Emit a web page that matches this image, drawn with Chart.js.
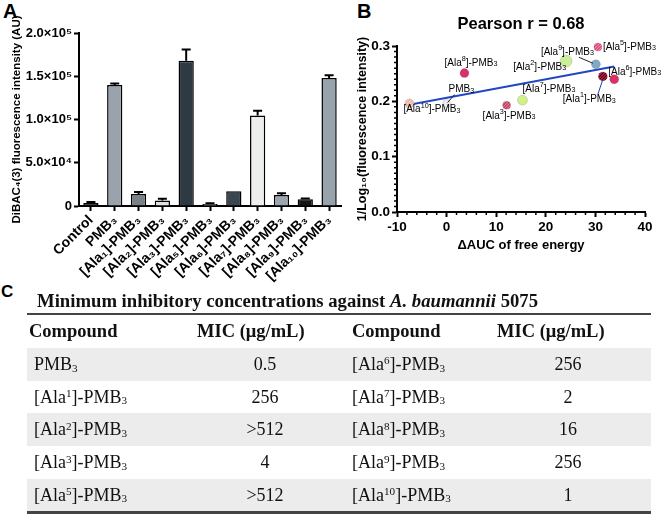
<!DOCTYPE html>
<html>
<head>
<meta charset="utf-8">
<script src="https://cdn.jsdelivr.net/npm/chart.js@4.4.1/dist/chart.umd.min.js"></script>
<style>
	html, body { margin: 0; padding: 0; background: #fff; }
	#page { position: relative; width: 661px; height: 514px; overflow: hidden; font-family: "Liberation Sans", Arial, sans-serif; }
	.letter { position: absolute; font-weight: bold; color: #000; line-height: 1; }
	#boxA { position: absolute; left: 0; top: 0; width: 345px; height: 292px; }
	#boxB { position: absolute; left: 330px; top: 0; width: 331px; height: 265px; }
	#table { position: absolute; left: 0; top: 0; width: 661px; height: 514px; font-family: "Liberation Serif", "Times New Roman", serif; color: #111; }
	#table div { position: absolute; white-space: nowrap; }
	.rule { background: #444; }
	.row { background: #ececec; }
	.cell { font-size: 18px; }
	.head { font-size: 18.5px; font-weight: bold; }
	sup, sub { font-size: 62%; line-height: 0; position: relative; vertical-align: baseline; }
	sup { top: -0.5em; }
	sub { top: 0.15em; }
</style>
</head>
<body>
<div id="page">
	<div class="letter" style="left:3px;top:1px;font-size:20px;">A</div>
	<div class="letter" style="left:357px;top:1px;font-size:20px;">B</div>
	<div class="letter" style="left:1px;top:283px;font-size:17px;">C</div>
	<div id="boxA"><canvas id="chartA" width="345" height="292"></canvas></div>
	<div id="boxB"><canvas id="chartB" width="331" height="265"></canvas></div>
	<div id="table"></div>
</div>
<script>
// --- panel A: membrane depolarisation (DiBAC4(3))
const barLabels = ['Control', 'PMB₃', '[Ala₁]-PMB₃', '[Ala₂]-PMB₃', '[Ala₃]-PMB₃', '[Ala₅]-PMB₃',
	'[Ala₆]-PMB₃', '[Ala₇]-PMB₃', '[Ala₈]-PMB₃', '[Ala₉]-PMB₃', '[Ala₁₀]-PMB₃'];
const barValues = [3500, 140000, 13800, 6500, 168000, 2300, 17000, 104500, 12800, 7800, 148000];
const barErrors = [1000, 1500, 2300, 2000, 13000, 1000, 0, 5500, 2000, 1000, 3200];
const barColors = ['#1c1c1c', '#9aa3ab', '#7a8187', '#dde1e1', '#2d3a43', '#b1b7bb',
	'#3a4750', '#eceeee', '#9ca6ae', '#141414', '#98a2aa'];
const yTicksA = [0, 50000, 100000, 150000, 200000];

// --- panel B: correlation
const pointNames = ['[Ala^10]-PMB_3', 'PMB_3', '[Ala^8]-PMB_3', '[Ala^3]-PMB_3', '[Ala^7]-PMB_3',
	'[Ala^2]-PMB_3', '[Ala^9]-PMB_3', '[Ala^5]-PMB_3', '[Ala^1]-PMB_3', '[Ala^6]-PMB_3'];
const freeEnergy = [-7.5, 0, 3.6, 12.1, 15.3, 24.1, 30.1, 30.5, 31.5, 33.8];
const invLogFluor = [0.196, 0.196, 0.251, 0.193, 0.202, 0.273, 0.267, 0.298, 0.245, 0.240];
const fitX = [-7.5, 33.8];
const fitY = [0.194, 0.263];
const pearsonR = '0.68';

// --- panel C: MIC table
const micCompoundsLeft = ['PMB_3', '[Ala^1]-PMB_3', '[Ala^2]-PMB_3', '[Ala^3]-PMB_3', '[Ala^5]-PMB_3'];
const micValuesLeft = ['0.5', '256', '>512', '4', '>512'];
const micCompoundsRight = ['[Ala^6]-PMB_3', '[Ala^7]-PMB_3', '[Ala^8]-PMB_3', '[Ala^9]-PMB_3', '[Ala^10]-PMB_3'];
const micValuesRight = ['256', '2', '16', '256', '1'];

const SANS = '"Liberation Sans", Arial, sans-serif';
const SUP = {'0':'⁰','1':'¹','2':'²','3':'³','4':'⁴','5':'⁵','6':'⁶','7':'⁷','8':'⁸','9':'⁹'};

function sciLabel(v)
{
	if (v === 0) return '0';
	const e = Math.floor(Math.log10(v));
	const m = (v / Math.pow(10, e)).toFixed(1);
	return m + '×10' + String(e).split('').map(d => SUP[d]).join('');
}

// parts of "[Ala^10]-PMB_3" -> [text, 0 | 1 (sup) | -1 (sub)]
function richParts(s)
{
	const out = [];
	const re = /([\^_])(\d+)/g;
	let last = 0, m;
	while ((m = re.exec(s)))
	{
		if (m.index > last) out.push([s.slice(last, m.index), 0]);
		out.push([m[2], m[1] === '^' ? 1 : -1]);
		last = re.lastIndex;
	}
	if (last < s.length) out.push([s.slice(last), 0]);
	return out;
}

function drawRich(ctx, s, x, y, size)
{
	let cx = x;
	richParts(s).forEach(([t, k]) => {
		const fs = k ? size * 0.72 : size;
		ctx.font = fs + 'px ' + SANS;
		const dy = k === 1 ? -size * 0.4 : (k === -1 ? size * 0.12 : 0);
		ctx.fillText(t, cx, y + dy);
		cx += ctx.measureText(t).width;
	});
}

function richHtml(s)
{
	return s.replace(/>/g, '&gt;')
		.replace(/\^(\d+)/g, '<sup>$1</sup>')
		.replace(/_(\d+)/g, '<sub>$1</sub>');
}

function hatch(base, dot)
{
	const c = document.createElement('canvas');
	c.width = 3; c.height = 3;
	const g = c.getContext('2d');
	g.fillStyle = base; g.fillRect(0, 0, 3, 3);
	g.fillStyle = dot; g.fillRect(0, 0, 1, 1); g.fillRect(2, 1, 1, 1); g.fillRect(1, 2, 1, 1);
	return g.createPattern(c, 'repeat');
}

// ---------- chart A ----------
const errorBars = {
	id: 'errorBars',
	afterDatasetsDraw(chart)
	{
		const ctx = chart.ctx;
		const y = chart.scales.y;
		const meta = chart.getDatasetMeta(0);
		ctx.save();
		ctx.strokeStyle = '#000';
		ctx.lineWidth = 2;
		meta.data.forEach((bar, i) => {
			if (!barErrors[i]) return;
			const top = y.getPixelForValue(barValues[i] + barErrors[i]);
			ctx.beginPath();
			ctx.moveTo(bar.x, bar.y);
			ctx.lineTo(bar.x, top);
			ctx.moveTo(bar.x - 4.5, top);
			ctx.lineTo(bar.x + 4.5, top);
			ctx.stroke();
		});
		ctx.restore();
	}
};

new Chart(document.getElementById('chartA'), {
	type: 'bar',
	data: {
		labels: barLabels,
		datasets: [{
			data: barValues,
			backgroundColor: barColors,
			borderColor: '#000',
			borderWidth: 1.5,
			barPercentage: 0.64,
			categoryPercentage: 1,
		}]
	},
	options: {
		responsive: false,
		animation: false,
		devicePixelRatio: 1,
		layout: {padding: {top: 33, right: 4, left: 0, bottom: 0}},
		plugins: {legend: {display: false}, tooltip: {enabled: false}},
		scales: {
			x: {
				grid: {drawOnChartArea: false, offset: false, tickLength: 5, tickColor: '#000', tickWidth: 2},
				border: {color: '#000', width: 2},
				ticks: {
					autoSkip: false, minRotation: 45, maxRotation: 45, padding: 1, color: '#000',
					font: {family: SANS, size: 14, weight: 'bold'}
				},
				afterFit(s) { s.height = 86; }
			},
			y: {
				min: 0, max: 200000,
				afterBuildTicks(s) { s.ticks = yTicksA.map(v => ({value: v})); },
				grid: {drawOnChartArea: false, tickLength: 5, tickColor: '#000', tickWidth: 2},
				border: {color: '#000', width: 2},
				ticks: {
					padding: 2, color: '#000', callback: v => sciLabel(v),
					font: {family: SANS, size: 13, weight: 'bold'}
				},
				title: {
					display: true, text: 'DiBAC₄(3) fluorescence intensity (AU)', color: '#000',
					font: {family: SANS, size: 11.5, weight: 'bold'}, padding: {top: 10, bottom: 0}
				},
				afterFit(s) { s.width = 79; }
			}
		}
	},
	plugins: [errorBars]
});

// ---------- chart B ----------
const pointFills = [
	hatch('#eab4a6', '#f6d8cf'), '#e9ebf3', '#d5336a', hatch('#c6486a', '#e07b95'), '#cdf28a',
	'#c9ef9a', '#7faaca', hatch('#e44d79', '#f38fae'), hatch('#b3173c', '#2a0008'), '#dc2f66'
];
const pointSizes = [4.5, 4, 4.5, 4, 5, 6, 4.5, 4, 4.5, 4.5];
// label anchor (left, middle) relative to the point, plus optional leader line
const labelPlacement = [
	{dx: -6, dy: 6}, {dx: 2, dy: -14, lead: [8, -9, 1, -1]}, {dx: -20, dy: -10}, {dx: -24, dy: 11},
	{dx: 0, dy: -11}, {dx: -53, dy: 6}, {dx: -55, dy: -12, lead: [-17, -7, -3, -1]},
	{dx: 5, dy: 0}, {dx: -40, dy: 23, lead: [-5, 18, 0, 3]}, {dx: -6, dy: -7}
];

const bDecor = {
	id: 'bDecor',
	afterDraw(chart)
	{
		const {ctx, chartArea: a, scales: {x, y}} = chart;
		ctx.save();
		// minor ticks
		ctx.strokeStyle = '#000';
		ctx.lineWidth = 1.5;
		ctx.beginPath();
		for (let v = -10; v <= 40; v += 2)
		{
			if (v % 10 === 0) continue;
			const px = x.getPixelForValue(v);
			ctx.moveTo(px, a.bottom); ctx.lineTo(px, a.bottom + 3);
		}
		for (let k = 0; k <= 30; k++)
		{
			if (k % 10 === 0) continue;
			const py = y.getPixelForValue(k / 100);
			ctx.moveTo(a.left, py); ctx.lineTo(a.left - 3, py);
		}
		ctx.stroke();
		// title
		ctx.fillStyle = '#000';
		ctx.font = 'bold 16.5px ' + SANS;
		ctx.textAlign = 'center';
		ctx.textBaseline = 'middle';
		ctx.fillText('Pearson r = ' + pearsonR, (a.left + a.right) / 2, 24);
		// point labels
		ctx.textAlign = 'left';
		const meta = chart.getDatasetMeta(0);
		meta.data.forEach((pt, i) => {
			const p = labelPlacement[i];
			drawRich(ctx, pointNames[i], pt.x + p.dx, pt.y + p.dy, 10);
			if (p.lead)
			{
				ctx.strokeStyle = i === 8 ? '#1f3fb0' : '#222';
				ctx.lineWidth = 1;
				ctx.beginPath();
				ctx.moveTo(pt.x + p.lead[0], pt.y + p.lead[1]);
				ctx.lineTo(pt.x + p.lead[2], pt.y + p.lead[3]);
				ctx.stroke();
			}
		});
		ctx.restore();
	}
};

const tickFontB = {family: SANS, size: 13.5, weight: 'bold'};
new Chart(document.getElementById('chartB'), {
	type: 'scatter',
	data: {
		datasets: [
			{
				type: 'scatter',
				order: 0,
				clip: false,
				data: freeEnergy.map((v, i) => ({x: v, y: invLogFluor[i]})),
				pointBackgroundColor: pointFills,
				pointBorderColor: 'rgba(120,60,70,0.35)',
				pointBorderWidth: 0.5,
				pointRadius: pointSizes,
			},
			{
				type: 'line',
				order: 1,
				data: fitX.map((v, i) => ({x: v, y: fitY[i]})),
				borderColor: '#2147c4',
				borderWidth: 2,
				pointRadius: 0,
				fill: false,
			}
		]
	},
	options: {
		responsive: false,
		animation: false,
		devicePixelRatio: 1,
		layout: {padding: {top: 46, right: 16, left: 0, bottom: 0}},
		plugins: {legend: {display: false}, tooltip: {enabled: false}},
		scales: {
			x: {
				type: 'linear', min: -10, max: 40,
				grid: {drawOnChartArea: false, tickLength: 5, tickColor: '#000', tickWidth: 2},
				border: {color: '#000', width: 2},
				ticks: {stepSize: 10, padding: 2, color: '#000', font: tickFontB},
				title: {
					display: true, text: 'ΔAUC of free energy', color: '#000',
					font: {family: SANS, size: 13, weight: 'bold'}, padding: {top: 0, bottom: 12}
				},
				afterFit(s) { s.height = 53; }
			},
			y: {
				min: 0, max: 0.3,
				grid: {drawOnChartArea: false, tickLength: 5, tickColor: '#000', tickWidth: 2},
				border: {color: '#000', width: 2},
				ticks: {stepSize: 0.1, padding: 2, color: '#000', font: tickFontB, callback: v => v.toFixed(1)},
				title: {
					display: true, text: '1/Log₁₀(fluorescence intensity)', color: '#000',
					font: {family: SANS, size: 12.5, weight: 'bold'}, padding: {top: 25, bottom: 0}
				},
				afterFit(s) { s.width = 67; }
			}
		}
	},
	plugins: [bDecor]
});

// ---------- table C ----------
(function buildTable()
{
	const root = document.getElementById('table');
	let html = '';
	html += '<div style="left:37px;top:291px;font-size:18.7px;font-weight:bold;line-height:20px;">' +
		'Minimum inhibitory concentrations against <i>A. baumannii</i> 5075</div>';
	html += '<div class="rule" style="left:27px;top:313px;width:624px;height:2px;"></div>';
	const headTop = 315, headH = 33;
	const cols = [29, 197, 352, 497];
	const heads = ['Compound', 'MIC (μg/mL)', 'Compound', 'MIC (μg/mL)'];
	heads.forEach((h, i) => {
		html += `<div class="head" style="left:${cols[i]}px;top:${headTop}px;line-height:${headH}px;">${h}</div>`;
	});
	const rowTop = 348, rowH = 32.7;
	micCompoundsLeft.forEach((c, r) => {
		const top = rowTop + r * rowH;
		if (r % 2 === 0)
		{
			html += `<div class="row" style="left:27px;top:${top}px;width:624px;height:${rowH}px;"></div>`;
		}
		const cell = (left, width, align, text) =>
			`<div class="cell" style="left:${left}px;top:${top}px;width:${width}px;text-align:${align};line-height:${rowH}px;">${richHtml(text)}</div>`;
		html += cell(34, 160, 'left', c);
		html += cell(215, 100, 'center', micValuesLeft[r]);
		html += cell(352, 140, 'left', micCompoundsRight[r]);
		html += cell(518, 100, 'center', micValuesRight[r]);
	});
	html += '<div class="rule" style="left:27px;top:511px;width:624px;height:3px;"></div>';
	root.innerHTML = html;
})();
</script>
</body>
</html>
